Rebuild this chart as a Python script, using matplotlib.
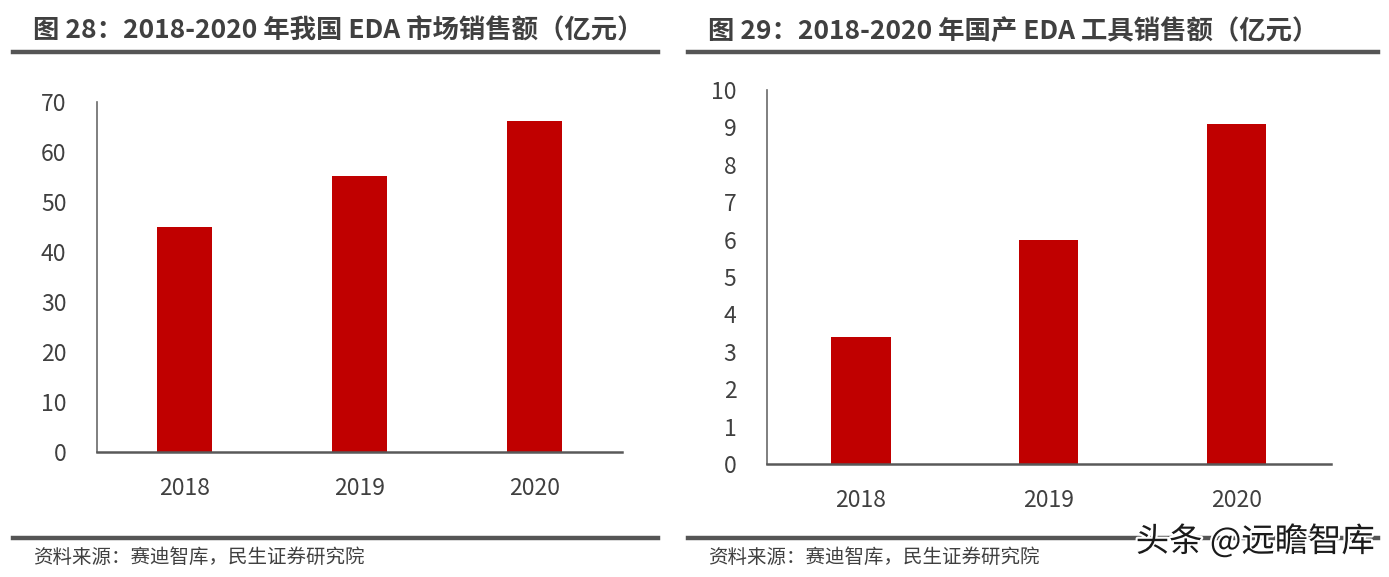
import matplotlib.pyplot as plt
import matplotlib.patheffects as pe

plt.rcParams['font.family'] = ['Noto Sans CJK SC', 'DejaVu Sans']

# === Data ===
years = ['2018', '2019', '2020']
market_sales = [45, 55.2, 66.2]      # 我国 EDA 市场销售额
domestic_sales = [3.4, 6.0, 9.1]     # 国产 EDA 工具销售额

title_left = '图 28：2018-2020 年我国 EDA 市场销售额（亿元）'
title_right = '图 29：2018-2020 年国产 EDA 工具销售额（亿元）'
source = '资料来源：赛迪智库，民生证券研究院'

bar_color = '#C00000'
text_color = '#404040'
line_color = '#555555'

fig = plt.figure(figsize=(13.89, 5.77), dpi=100)


def draw_panel(rect, values, ymax, step):
    ax = fig.add_axes(rect)
    x = range(len(years))
    ax.bar(x, values, width=0.314, color=bar_color)
    ax.set_xlim(-0.5, len(years) - 0.5)
    ax.set_ylim(0, ymax)
    ax.set_yticks(range(0, ymax + 1, step))
    ax.set_xticks(list(x))
    ax.set_xticklabels(years)
    for s in ['top', 'right']:
        ax.spines[s].set_visible(False)
    ax.spines['left'].set_color('#6a6a6a')
    ax.spines['left'].set_linewidth(1.2)
    ax.spines['bottom'].set_color('#595959')
    ax.spines['bottom'].set_linewidth(1.8)
    ax.tick_params(length=0, labelsize=16.5, colors=text_color)
    ax.tick_params(axis='y', pad=22)
    ax.tick_params(axis='x', pad=18)
    return ax


draw_panel([0.0698, 0.2166, 0.378, 0.6066], market_sales, 70, 10)
draw_panel([0.5522, 0.1958, 0.406, 0.6482], domestic_sales, 10, 1)

# titles and rules
for x0, x1, title in [(13, 658, title_left), (688, 1378, title_right)]:
    fig.text((x0 + 20) / 1389, 1 - 31 / 577, title, fontsize=19, fontweight='bold',
             color=text_color, va='center', ha='left')
    fig.add_artist(plt.Line2D([x0 / 1389, x1 / 1389], [1 - 52 / 577] * 2,
                              color=line_color, linewidth=3.2))
    fig.add_artist(plt.Line2D([x0 / 1389, x1 / 1389], [1 - 538 / 577] * 2,
                              color=line_color, linewidth=3.2))
    fig.text((x0 + 20) / 1389, 1 - 557 / 577, source, fontsize=14,
             color=text_color, va='center', ha='left')

# watermark
fig.text(1375 / 1389, 1 - 542 / 577, '头条 @远瞻智库', fontsize=24, color='#1a1a1a',
         ha='right', va='center',
         path_effects=[pe.withStroke(linewidth=3, foreground='white')])

fig.savefig('out.png', dpi=100)
